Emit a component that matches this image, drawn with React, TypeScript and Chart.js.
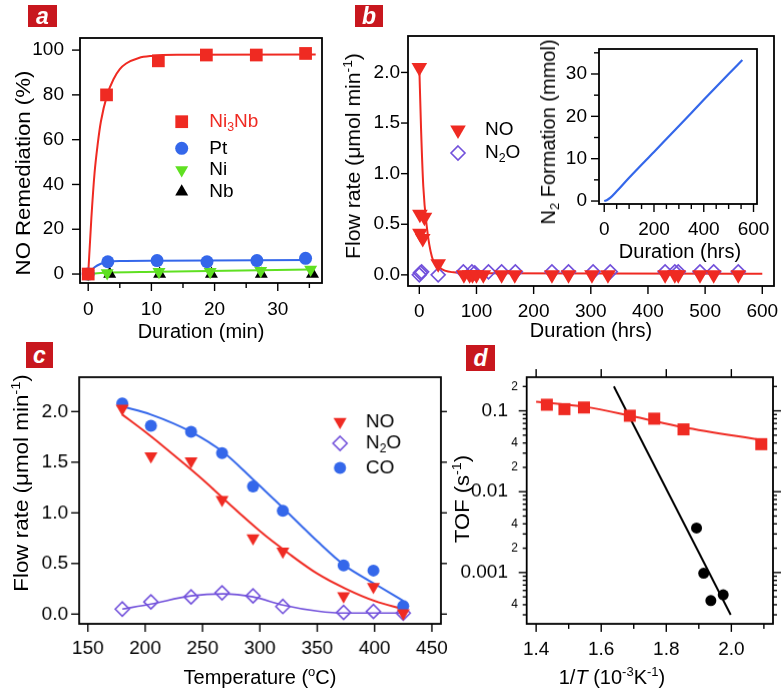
import React, { useEffect, useRef } from 'react';
import { Chart, registerables } from 'chart.js';
Chart.register(...registerables);

const FONT = "'Liberation Sans', Arial, Helvetica, sans-serif";
const RED = '#ef2a22';
const BLUE = '#3467ea';
const GREEN = '#5fe021';
const PURPLE = '#7251db';
const BLACK = '#000000';
const TICK_SIZE = 19;

// ---------- Panel a : NO remediation vs duration (min) ----------
const aTimeNi3Nb = [0, 2.9, 11.1, 18.7, 26.6, 34.4];
const aNi3Nb = [0, 80, 95.2, 97.8, 97.8, 98.5];
const aTimePt = [0, 3.1, 10.9, 18.8, 26.7, 34.4];
const aPt = [0, 5.5, 6, 5.5, 6, 7];
const aTimeNi = [0, 3, 11.2, 19.3, 27.3, 35.2];
const aNi = [0, 0.5, 1, 1, 1.5, 2];
const aTimeNb = [3.4, 11.3, 19.5, 27.4, 35.5];
const aNb = [0, 0, 0, 0, 0];
const aFitNi3NbT = [0, 0.5, 1, 1.5, 2, 3, 4, 5, 6, 8, 10, 14, 36];
const aFitNi3Nb = [0, 25, 45, 58, 68, 80, 87, 91.5, 94, 96.5, 97.4, 97.9, 98];
const aFitPtT = [0, 1, 2, 3, 5, 11, 35];
const aFitPt = [0, 3, 4.6, 5.4, 5.8, 5.9, 6.3];
const aFitNiT = [0, 2, 11, 35];
const aFitNi = [0, 0.5, 1, 2];
const aTicksX = [0, 10, 20, 30];
const aMinorX = [5, 15, 25, 35];
const aTicksY = [0, 20, 40, 60, 80, 100];

// ---------- Panel b : flow rate vs duration (hrs) ----------
const bNoT = [0, 1, 9, 1, 6, 33, 78, 88, 93, 100, 112, 144, 167, 232, 261, 302, 330, 430, 447, 453, 491, 515, 558];
const bNo = [2.05, 0.6, 0.57, 0.41, 0.36, 0.11, 0, 0, 0, 0, 0, 0, 0, 0, 0, 0, 0, 0, 0, 0, 0, 0, 0];
const bN2OT = [0, 2, 4, 33, 77, 92, 97, 121, 144, 168, 232, 261, 304, 334, 430, 447, 453, 491, 515, 558];
const bN2O = [0, 0.02, 0.03, 0, 0.03, 0.03, 0.02, 0.03, 0.03, 0.03, 0.03, 0.03, 0.03, 0.03, 0.03, 0.03, 0.03, 0.03, 0.03, 0.03];
const bFitT = [0, 3, 7, 13, 22, 36, 60, 100, 600];
const bFit = [2.05, 1.45, 0.87, 0.48, 0.18, 0.07, 0.025, 0.015, 0.01];
const bTicksX = [0, 100, 200, 300, 400, 500, 600];
const bTicksY = [0, 0.5, 1, 1.5, 2];

// ---------- Panel b inset : N2 formation ----------
const inT = [0, 10, 25, 50, 100, 200, 300, 400, 500, 555];
const inN2 = [0, 0.2, 0.8, 2.3, 5.5, 11.6, 17.7, 23.9, 30.0, 33.3];
const inTicksX = [0, 200, 400, 600];
const inMinorX = [50, 100, 150, 250, 300, 350, 450, 500, 550];
const inTicksY = [0, 10, 20, 30];
const inMinorY = [5, 15, 25, 35];

// ---------- Panel c : flow rate vs temperature ----------
const cTemp = [180, 205, 240, 267, 294, 320, 373, 399, 425];
const cNo = [2.03, 1.56, 1.51, 1.13, 0.75, 0.62, 0.18, 0.27, 0.01];
const cN2O = [0.05, 0.12, 0.17, 0.21, 0.18, 0.075, 0.016, 0.026, 0.01];
const cCo = [2.08, 1.86, 1.8, 1.59, 1.26, 1.02, 0.48, 0.43, 0.08];
const cFitNoT = [180, 200, 225, 250, 275, 300, 325, 350, 375, 400, 425];
const cFitNo = [1.97, 1.8, 1.57, 1.33, 1.07, 0.82, 0.6, 0.4, 0.25, 0.13, 0.05];
const cFitCoT = [180, 205, 240, 268, 294, 320, 350, 374, 400, 425];
const cFitCo = [2.05, 1.97, 1.8, 1.6, 1.33, 1.05, 0.72, 0.48, 0.3, 0.13];
const cFitN2OT = [180, 205, 240, 268, 294, 320, 350, 374, 425];
const cFitN2O = [0.05, 0.1, 0.18, 0.2, 0.17, 0.09, 0.03, 0.01, 0.01];
const cTicksX = [150, 200, 250, 300, 350, 400, 450];
const cTicksY = [0, 0.5, 1, 1.5, 2];

// ---------- Panel d : Arrhenius (TOF) ----------
const dRedX = [1.433, 1.487, 1.547, 1.688, 1.763, 1.853, 2.092];
const dRed = [0.119, 0.105, 0.11, 0.087, 0.08, 0.059, 0.0387];
const dBlackX = [1.893, 1.915, 1.937, 1.975];
const dBlack = [0.00355, 0.00098, 0.00045, 0.00053];
const dRedFitX = [1.4, 1.55, 1.69, 1.85, 2.1];
const dRedFit = [0.13, 0.112, 0.087, 0.063, 0.043];
const dBlackFitX = [1.639, 1.998];
const dBlackFit = [0.2, 0.0003];
const dTicksX = [1.4, 1.6, 1.8, 2.0];
const dMinorX = [1.5, 1.7, 1.9, 2.1];
const dTicksY = [0.001, 0.01, 0.1];
const dMinorY = [0.0003, 0.0004, 0.0005, 0.0006, 0.0007, 0.0008, 0.0009, 0.002, 0.003, 0.004, 0.005, 0.006, 0.007, 0.008, 0.009, 0.02, 0.03, 0.04, 0.05, 0.06, 0.07, 0.08, 0.09, 0.2];
const dMinorLabelY = [0.2, 0.04, 0.02, 0.004, 0.002, 0.0004];
const dMinorLabelText = ['2', '4', '2', '4', '2', '4'];

// ---------- helpers ----------
type Part = [string, string?];
const pts = (xs: number[], ys: number[]) => xs.map((x, i) => ({ x, y: ys[i] }));
const STYLE: Record<string, { ps: string; rot: number }> = {
  rect: { ps: 'rect', rot: 0 },
  circle: { ps: 'circle', rot: 0 },
  triUp: { ps: 'triangle', rot: 0 },
  triDown: { ps: 'triangle', rot: 180 },
  diamond: { ps: 'rectRot', rot: 0 },
};
function markers(xs: number[], ys: number[], style: string, color: string, r: number, filled = true) {
  const m = STYLE[style];
  return {
    data: pts(xs, ys), showLine: false, pointStyle: m.ps, pointRotation: m.rot,
    pointRadius: r, pointHoverRadius: r,
    pointBackgroundColor: filled ? color : 'rgba(0,0,0,0)', pointBorderColor: color,
    pointBorderWidth: filled ? 0 : 1.6, clip: false,
  };
}
function fitLine(xs: number[], ys: number[], color: string, w = 2) {
  return {
    data: pts(xs, ys), showLine: true, borderColor: color, borderWidth: w, pointRadius: 0,
    pointHoverRadius: 0, cubicInterpolationMode: 'monotone', fill: false, clip: false,
  };
}
function drawMarker(ctx: CanvasRenderingContext2D, style: string, x: number, y: number, r: number, color: string, filled: boolean) {
  ctx.save();
  ctx.beginPath();
  if (style === 'circle') ctx.arc(x, y, r, 0, Math.PI * 2);
  else if (style === 'rect') { const s = r * Math.SQRT1_2; ctx.rect(x - s, y - s, 2 * s, 2 * s); }
  else if (style === 'diamond') { ctx.moveTo(x, y - r); ctx.lineTo(x + r, y); ctx.lineTo(x, y + r); ctx.lineTo(x - r, y); ctx.closePath(); }
  else {
    let a = style === 'triDown' ? Math.PI : 0;
    for (let k = 0; k < 3; k++) {
      const px = x + Math.sin(a) * r, py = y - Math.cos(a) * r;
      if (k === 0) ctx.moveTo(px, py); else ctx.lineTo(px, py);
      a += (2 * Math.PI) / 3;
    }
    ctx.closePath();
  }
  if (filled) { ctx.fillStyle = color; ctx.fill(); }
  else { ctx.strokeStyle = color; ctx.lineWidth = 1.6; ctx.stroke(); }
  ctx.restore();
}
function drawParts(ctx: CanvasRenderingContext2D, parts: Part[], x: number, y: number, size: number, color: string) {
  ctx.save();
  ctx.fillStyle = color; ctx.textAlign = 'left'; ctx.textBaseline = 'middle';
  let cx = x;
  for (const [t, k] of parts) {
    const s = k ? size * 0.65 : size;
    const dy = k === 'sub' ? size * 0.3 : k === 'sup' ? -size * 0.35 : 0;
    ctx.font = `${s}px ${FONT}`;
    ctx.fillText(t, cx, y + dy);
    cx += ctx.measureText(t).width;
  }
  ctx.restore();
}

const decorPlugin = {
  id: 'decor',
  beforeDraw(chart: any, _a: any, o: any) {
    if (!o || !o.bg) return;
    const { ctx, chartArea: ca } = chart;
    ctx.save(); ctx.fillStyle = '#ffffff';
    ctx.fillRect(ca.left, ca.top, ca.right - ca.left, ca.bottom - ca.top);
    ctx.restore();
  },
  beforeDatasetsDraw(chart: any, _a: any, o: any) {
    const { ctx, chartArea: ca, scales } = chart;
    ctx.save();
    ctx.strokeStyle = '#000'; ctx.lineWidth = 1.8;
    ctx.strokeRect(ca.left, ca.top, ca.right - ca.left, ca.bottom - ca.top);
    ctx.lineWidth = 1.4;
    for (const m of o.marks || []) {
      const sc = scales[m.scale];
      for (const v of m.values) {
        const p = sc.getPixelForValue(v);
        ctx.beginPath();
        if (m.side === 'bottom') { ctx.moveTo(p, ca.bottom); ctx.lineTo(p, ca.bottom + m.len); }
        else if (m.side === 'top') { ctx.moveTo(p, ca.top); ctx.lineTo(p, ca.top - m.len); }
        else if (m.side === 'left') { ctx.moveTo(ca.left, p); ctx.lineTo(ca.left - m.len, p); }
        else { ctx.moveTo(ca.right, p); ctx.lineTo(ca.right + m.len, p); }
        ctx.stroke();
      }
    }
    for (const l of o.labels || []) {
      const sc = scales[l.scale];
      ctx.font = `${l.size}px ${FONT}`; ctx.fillStyle = '#000';
      ctx.textAlign = 'right'; ctx.textBaseline = 'middle';
      l.values.forEach((v: number, i: number) => ctx.fillText(l.texts[i], ca.left - l.offset, sc.getPixelForValue(v)));
    }
    ctx.restore();
  },
  afterDatasetsDraw(chart: any, _a: any, o: any) {
    const { ctx, chartArea: ca } = chart;
    for (const it of o.legend || []) {
      const y0 = ca.top + it.my;
      drawMarker(ctx, it.style, ca.left + it.mx, y0, it.r, it.color, it.filled !== false);
      drawParts(ctx, it.parts, ca.left + it.tx, y0, 19, it.textColor || '#000');
    }
  },
};

type Area = { l: number; t: number; r: number; b: number };
type AxisSpec = { type?: string; min: number; max: number; ticks: number[]; pad: number; fmt: (v: number) => string };
// canvasLeft: left edge of the canvas (y-axis box starts here); canvasBottom: bottom edge (x-axis box ends here)
type Spec = { canvasLeft: number; canvasBottom: number; area: Area; datasets: any[]; x: AxisSpec; y: AxisSpec; decor: any };

const MARGIN = 46; // generous room above / right of the plot area so Chart.js never shifts it

function canvasRect(spec: Spec) {
  const l = spec.canvasLeft;
  const t = spec.area.t - MARGIN;
  const w = spec.area.r + MARGIN - l;
  const h = spec.canvasBottom - t;
  return { l, t, w, h };
}

function buildConfig(spec: Spec) {
  const { area, datasets, x, y, decor } = spec;
  const canvas = canvasRect(spec);
  const axis = (a: AxisSpec, isX: boolean) => ({
    type: a.type || 'linear',
    position: isX ? 'bottom' : 'left',
    min: a.min, max: a.max,
    afterFit: (s: any) => { if (isX) s.height = canvas.t + canvas.h - area.b; else s.width = area.l - canvas.l; },
    afterBuildTicks: (s: any) => { s.ticks = a.ticks.map((v) => ({ value: v })); },
    grid: { display: false, drawTicks: false },
    border: { display: false },
    ticks: {
      padding: a.pad, color: '#000', font: { family: FONT, size: TICK_SIZE }, autoSkip: false,
      maxRotation: 0, minRotation: 0, callback: (v: number) => a.fmt(v),
    },
  });
  return {
    type: 'scatter',
    data: { datasets },
    options: {
      responsive: false, animation: false, events: [],
      layout: { padding: { top: area.t - canvas.t, right: canvas.l + canvas.w - area.r, left: 0, bottom: 0 } },
      scales: { x: axis(x, true), y: axis(y, false) },
      plugins: { legend: { display: false }, tooltip: { enabled: false }, decor },
    },
    plugins: [decorPlugin],
  };
}

const f0 = (v: number) => String(v);
const f1 = (v: number) => v.toFixed(1);

const specA: Spec = {
  canvasLeft: 0, canvasBottom: 345,
  area: { l: 80, t: 38, r: 322, b: 283 },
  x: { min: -1.3, max: 37, ticks: aTicksX, pad: 15, fmt: f0 },
  y: { min: -4, max: 105.4, ticks: aTicksY, pad: 16, fmt: f0 },
  datasets: [
    markers(aTimeNi3Nb, aNi3Nb, 'rect', RED, 9),
    markers(aTimePt, aPt, 'circle', BLUE, 6.5),
    markers(aTimeNi, aNi, 'triDown', GREEN, 7.5),
    markers(aTimeNb, aNb, 'triUp', BLACK, 7.5),
    fitLine(aFitNi3NbT, aFitNi3Nb, RED),
    fitLine(aFitPtT, aFitPt, BLUE),
    fitLine(aFitNiT, aFitNi, GREEN),
  ],
  decor: {
    marks: [
      { scale: 'x', side: 'bottom', values: aTicksX, len: 8 },
      { scale: 'x', side: 'bottom', values: aMinorX, len: 5 },
      { scale: 'y', side: 'left', values: aTicksY, len: 8 },
    ],
    legend: [
      { mx: 101.7, my: 83.7, tx: 129.3, style: 'rect', r: 9, color: RED, parts: [['Ni'], ['3', 'sub'], ['Nb']], textColor: RED },
      { mx: 101.7, my: 110.3, tx: 129.3, style: 'circle', r: 6.5, color: BLUE, parts: [['Pt']] },
      { mx: 101.7, my: 132, tx: 129.3, style: 'triDown', r: 7.5, color: GREEN, parts: [['Ni']] },
      { mx: 101.7, my: 153.7, tx: 129.3, style: 'triUp', r: 7.5, color: BLACK, parts: [['Nb']] },
    ],
  },
};

const specB: Spec = {
  canvasLeft: 340, canvasBottom: 345,
  area: { l: 408, t: 36, r: 774, b: 286 },
  x: { min: -19.8, max: 620.5, ticks: bTicksX, pad: 14, fmt: f0 },
  y: { min: -0.11, max: 2.36, ticks: bTicksY, pad: 8, fmt: f1 },
  datasets: [
    markers(bNoT, bNo, 'triDown', RED, 9),
    markers(bN2OT, bN2O, 'diamond', PURPLE, 7, false),
    fitLine(bFitT, bFit, RED),
  ],
  decor: {
    marks: [
      { scale: 'x', side: 'bottom', values: bTicksX, len: 8 },
      { scale: 'y', side: 'left', values: bTicksY, len: 7 },
    ],
    legend: [
      { mx: 50, my: 94, tx: 77, style: 'triDown', r: 9, color: RED, parts: [['NO']] },
      { mx: 50, my: 117, tx: 77, style: 'diamond', r: 7, color: PURPLE, filled: false, parts: [['N'], ['2', 'sub'], ['O']] },
    ],
  },
};

const specInset: Spec = {
  canvasLeft: 530, canvasBottom: 270,
  area: { l: 599, t: 49, r: 757, b: 204 },
  x: { min: -21, max: 614, ticks: inTicksX, pad: 14, fmt: f0 },
  y: { min: -0.7, max: 35.9, ticks: inTicksY, pad: 12, fmt: f0 },
  datasets: [fitLine(inT, inN2, BLUE, 2.2)],
  decor: {
    bg: true,
    marks: [
      { scale: 'x', side: 'bottom', values: inTicksX, len: 8 },
      { scale: 'x', side: 'bottom', values: inMinorX, len: 5 },
      { scale: 'y', side: 'left', values: inTicksY, len: 8 },
      { scale: 'y', side: 'left', values: inMinorY, len: 5 },
    ],
  },
};

const specC: Spec = {
  canvasLeft: 0, canvasBottom: 691,
  area: { l: 79, t: 377.3, r: 440.7, b: 624 },
  x: { min: 142.4, max: 457.9, ticks: cTicksX, pad: 13, fmt: f0 },
  y: { min: -0.096, max: 2.34, ticks: cTicksY, pad: 11, fmt: f1 },
  datasets: [
    markers(cTemp, cNo, 'triDown', RED, 7.5),
    markers(cTemp, cCo, 'circle', BLUE, 6),
    markers(cTemp, cN2O, 'diamond', PURPLE, 7, false),
    fitLine(cFitNoT, cFitNo, RED),
    fitLine(cFitCoT, cFitCo, BLUE),
    fitLine(cFitN2OT, cFitN2O, PURPLE, 1.6),
  ],
  decor: {
    marks: [
      { scale: 'x', side: 'bottom', values: cTicksX, len: 8 },
      { scale: 'y', side: 'left', values: cTicksY, len: 8 },
      { scale: 'y', side: 'right', values: cTicksY, len: 6 },
    ],
    legend: [
      { mx: 260.3, my: 44.4, tx: 286, style: 'triDown', r: 7.5, color: RED, parts: [['NO']] },
      { mx: 260.3, my: 66, tx: 286, style: 'diamond', r: 7, color: PURPLE, filled: false, parts: [['N'], ['2', 'sub'], ['O']] },
      { mx: 260.3, my: 90.4, tx: 286, style: 'circle', r: 6, color: BLUE, parts: [['CO']] },
    ],
  },
};

const specD: Spec = {
  canvasLeft: 455, canvasBottom: 691,
  area: { l: 526.7, t: 377.3, r: 773.3, b: 624 },
  x: { min: 1.371, max: 2.128, ticks: dTicksX, pad: 14.5, fmt: f1 },
  y: { type: 'logarithmic', min: 0.000232, max: 0.261, ticks: dTicksY, pad: 18.7, fmt: f0 },
  datasets: [
    markers(dRedX, dRed, 'rect', RED, 8.5),
    markers(dBlackX, dBlack, 'circle', BLACK, 5.5),
    fitLine(dRedFitX, dRedFit, RED),
    fitLine(dBlackFitX, dBlackFit, BLACK),
  ],
  decor: {
    marks: [
      { scale: 'x', side: 'bottom', values: dTicksX, len: 8 },
      { scale: 'x', side: 'bottom', values: dMinorX, len: 5 },
      { scale: 'x', side: 'top', values: dTicksX, len: 8 },
      { scale: 'y', side: 'left', values: dTicksY, len: 8 },
      { scale: 'y', side: 'left', values: dMinorY, len: 4 },
      { scale: 'y', side: 'right', values: dTicksY, len: 8 },
      { scale: 'y', side: 'right', values: dMinorY, len: 4 },
    ],
    labels: [{ scale: 'y', values: dMinorLabelY, texts: dMinorLabelText, offset: 8.7, size: 12 }],
  },
};

function ChartBox({ spec }: { spec: Spec }) {
  const ref = useRef<HTMLCanvasElement>(null);
  useEffect(() => {
    const c = new Chart(ref.current as HTMLCanvasElement, buildConfig(spec) as any);
    return () => c.destroy();
  }, [spec]);
  const canvas = canvasRect(spec);
  return (
    <canvas
      ref={ref}
      width={canvas.w}
      height={canvas.h}
      style={{ position: 'absolute', left: canvas.l, top: canvas.t, width: canvas.w, height: canvas.h, display: 'block' }}
    />
  );
}

const subStyle: React.CSSProperties = { fontSize: '0.65em', verticalAlign: '-0.3em', lineHeight: 0 };
const supStyle: React.CSSProperties = { fontSize: '0.65em', verticalAlign: '0.6em', lineHeight: 0 };

function Title({ x, y, rot, stretch = 1, children }: { x: number; y: number; rot?: boolean; stretch?: number; children: React.ReactNode }) {
  return (
    <div
      style={{
        position: 'absolute', left: x, top: y, whiteSpace: 'nowrap', font: `20px ${FONT}`, lineHeight: 1,
        color: '#000',
        transform: `translate(-50%, -50%)${rot ? ` rotate(-90deg) scaleX(${stretch})` : ''}`,
      }}
    >
      {children}
    </div>
  );
}

function Badge({ x, y, w, h, letter }: { x: number; y: number; w: number; h: number; letter: string }) {
  return (
    <div
      style={{
        position: 'absolute', left: x, top: y, width: w, height: h, background: '#c8171e', color: '#fff',
        font: `italic bold 23px ${FONT}`, lineHeight: `${h}px`, textAlign: 'center',
      }}
    >
      {letter}
    </div>
  );
}

export default function App() {
  return (
    <div style={{ position: 'absolute', left: 0, top: 0, width: 784, height: 691, overflow: 'hidden', background: '#fff' }}>
      <ChartBox spec={specA} />
      <ChartBox spec={specB} />
      <ChartBox spec={specInset} />
      <ChartBox spec={specC} />
      <ChartBox spec={specD} />

      <Badge x={28} y={5} w={29} h={22} letter="a" />
      <Badge x={355} y={5} w={28} h={22} letter="b" />
      <Badge x={26} y={342} w={27} h={26} letter="c" />
      <Badge x={466} y={345} w={29} h={26} letter="d" />

      <Title x={23} y={173} rot stretch={1.11}>NO Remediation (%)</Title>
      <Title x={201} y={331}>Duration (min)</Title>

      <Title x={353} y={156} rot stretch={1.06}>Flow rate (μmol min<sup style={supStyle}>-1</sup>)</Title>
      <Title x={591} y={330}>Duration (hrs)</Title>
      <Title x={548} y={132} rot>N<sub style={subStyle}>2</sub> Formation (mmol)</Title>
      <Title x={680} y={251}>Duration (hrs)</Title>

      <Title x={21} y={483} rot stretch={1.12}>Flow rate (μmol min<sup style={supStyle}>-1</sup>)</Title>
      <Title x={260} y={677}>Temperature (<sup style={supStyle}>o</sup>C)</Title>

      <Title x={462} y={499} rot stretch={1.1}>TOF (s<sup style={supStyle}>-1</sup>)</Title>
      <Title x={612} y={677}>1/<i>T</i> (10<sup style={supStyle}>-3</sup>K<sup style={supStyle}>-1</sup>)</Title>
    </div>
  );
}
